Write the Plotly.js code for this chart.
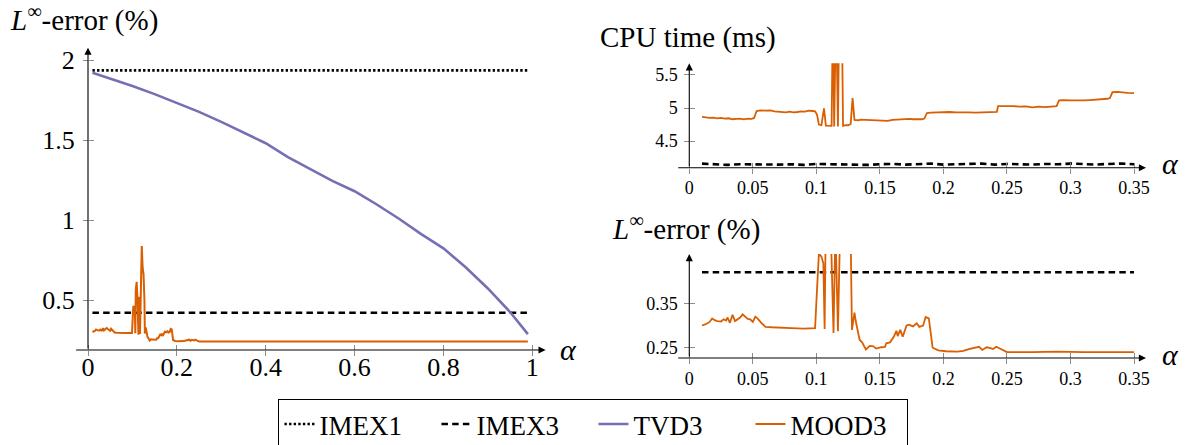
<!DOCTYPE html>
<html><head><meta charset="utf-8">
<script src="https://cdn.plot.ly/plotly-3.0.1.min.js"></script>
<style>html,body{margin:0;padding:0;background:#fff}#chart{width:1190px;height:445px}</style>
</head><body><div id="chart"></div>
<script>
// ---------------- data ----------------
const seriesNames = ['IMEX1', 'IMEX3', 'TVD3', 'MOOD3'];

// reference schemes (constant over alpha)
const alphaRefLeft = [0.01, 0.99];
const alphaRefRight = [0.01, 0.35];
const imex1Err = [1.935, 1.935];
const imex3Err = [0.42, 0.42];

// TVD3 L-infinity error
const alphaTvd = [0.01,0.05,0.10,0.15,0.20,0.25,0.30,0.35,0.40,0.45,0.50,0.55,0.60,0.65,0.70,0.75,0.80,0.85,0.90,0.95,0.99];
const tvd3Err  = [1.920,1.885,1.838,1.787,1.733,1.676,1.613,1.549,1.480,1.393,1.320,1.245,1.180,1.097,1.008,0.912,0.823,0.705,0.572,0.425,0.287];

// MOOD3 L-infinity error
const alphaMood = [0.010,0.013,0.016,0.018,0.020,0.022,0.025,0.027,0.029,0.030,
  0.032,0.034,0.036,0.038,0.040,0.042,0.044,0.046,0.048,0.050,
  0.052,0.054,0.057,0.060,0.065,0.070,0.080,0.090,0.099,0.1005,
  0.102,0.104,0.1055,0.1065,0.1075,0.1095,0.1115,0.1135,0.115,0.117,
  0.119,0.121,0.123,0.125,0.127,0.128,0.130,0.131,0.134,0.136,
  0.139,0.142,0.145,0.147,0.151,0.154,0.155,0.158,0.161,0.163,
  0.164,0.166,0.168,0.171,0.173,0.176,0.179,0.181,0.184,0.186,
  0.1885,0.1915,0.196,0.202,0.211,0.2157,0.220,0.223,0.228,0.2306,
  0.234,0.237,0.239,0.2416,0.246,0.250,0.270,0.290,0.310,0.350,
  0.40,0.50,0.60,0.70,0.80,0.90,0.99];
const moodErr = [0.300,0.303,0.308,0.316,0.312,0.310,0.309,0.314,0.311,0.318,
  0.306,0.324,0.310,0.314,0.318,0.325,0.320,0.315,0.314,0.308,
  0.320,0.315,0.305,0.297,0.296,0.295,0.294,0.293,0.294,0.380,
  0.462,0.455,0.440,0.292,0.560,0.614,0.500,0.283,0.520,0.287,
  0.600,0.838,0.700,0.660,0.500,0.290,0.329,0.310,0.268,0.262,
  0.246,0.254,0.253,0.248,0.251,0.252,0.260,0.262,0.275,0.288,
  0.276,0.290,0.275,0.300,0.302,0.298,0.305,0.297,0.300,0.319,
  0.316,0.250,0.244,0.242,0.241,0.243,0.247,0.249,0.252,0.245,
  0.251,0.249,0.247,0.252,0.245,0.240,0.240,0.241,0.240,0.240,
  0.240,0.240,0.240,0.240,0.240,0.240,0.240];

// MOOD3 CPU time (ms)
const alphaCpu = [0.010,0.013,0.016,0.019,0.022,0.025,0.028,0.031,0.034,0.037,
  0.040,0.043,0.046,0.049,0.051,0.053,0.056,0.060,0.064,0.067,
  0.070,0.073,0.076,0.079,0.082,0.085,0.088,0.091,0.094,0.097,
  0.099,0.1005,0.102,0.104,0.106,0.1075,0.110,0.112,0.113,0.114,
  0.1155,0.117,0.118,0.120,0.121,0.123,0.125,0.127,0.1285,0.130,
  0.133,0.135,0.140,0.145,0.150,0.153,0.156,0.160,0.163,0.166,
  0.170,0.173,0.176,0.180,0.183,0.185,0.187,0.190,0.195,0.200,
  0.205,0.210,0.215,0.220,0.225,0.230,0.235,0.240,0.242,0.243,
  0.250,0.255,0.260,0.265,0.270,0.275,0.280,0.285,0.289,0.291,
  0.295,0.300,0.305,0.310,0.315,0.320,0.325,0.329,0.331,0.333,
  0.337,0.341,0.345,0.350];
const moodCpu = [4.865,4.855,4.850,4.855,4.845,4.850,4.840,4.845,4.830,4.835,
  4.840,4.830,4.840,4.835,4.850,4.955,4.965,4.960,4.965,4.950,
  4.945,4.940,4.935,4.945,4.935,4.940,4.950,4.945,4.960,4.955,
  4.950,4.900,4.750,4.740,4.995,4.735,4.730,4.730,6.500,4.720,
  6.500,4.720,6.500,6.500,4.730,4.740,4.740,4.760,5.150,4.820,
  4.815,4.825,4.820,4.815,4.820,4.810,4.805,4.820,4.825,4.820,
  4.830,4.835,4.830,4.825,4.830,4.840,4.925,4.930,4.935,4.935,
  4.940,4.935,4.940,4.935,4.930,4.935,4.930,4.935,4.940,5.030,
  5.035,5.030,5.020,5.025,5.010,5.020,5.015,5.025,5.030,5.115,
  5.120,5.115,5.110,5.115,5.120,5.125,5.130,5.140,5.150,5.240,
  5.245,5.235,5.230,5.225];

// IMEX3 CPU time (ms)
const alphaImexCpu = [0.01,0.02,0.03,0.04,0.05,0.06,0.07,0.08,0.09,0.10,
  0.11,0.12,0.13,0.14,0.15,0.16,0.17,0.18,0.19,0.20,
  0.21,0.22,0.23,0.24,0.25,0.26,0.27,0.28,0.29,0.30,
  0.31,0.32,0.33,0.34,0.35];
const imex3Cpu = [4.160,4.145,4.140,4.150,4.145,4.150,4.145,4.150,4.140,4.155,
  4.150,4.145,4.150,4.140,4.150,4.155,4.145,4.150,4.160,4.145,
  4.150,4.155,4.160,4.145,4.155,4.150,4.145,4.155,4.150,4.160,
  4.150,4.145,4.155,4.160,4.150];

// tick labels
const leftXTicks = [0, 0.2, 0.4, 0.6, 0.8, 1];
const leftXText = ['0', '0.2', '0.4', '0.6', '0.8', '1'];
const leftYTicks = [0.5, 1, 1.5, 2];
const leftYText = ['0.5', '1', '1.5', '2'];
const rightXTicks = [0, 0.05, 0.1, 0.15, 0.2, 0.25, 0.3, 0.35];
const rightXText = ['0', '0.05', '0.1', '0.15', '0.2', '0.25', '0.3', '0.35'];
const cpuYTicks = [4.5, 5, 5.5];
const cpuYText = ['4.5', '5', '5.5'];
const errYTicks = [0.25, 0.35];
const errYText = ['0.25', '0.35'];

// ---------------- styling / layout ----------------
const W = 1190, H = 445;
const FONT = 'Liberation Serif';
const BLACK = '#000000', TVD_COLOR = '#7570b3', MOOD_COLOR = '#d95f02';
const TICKC = '#8c8c8c';
const fx = p => p / W;
const fy = p => 1 - p / H;

const leftXR = [-0.03, 1.03], leftYR = [0.1875, 2.077];
const rightXR = [-0.0099, 0.3594], cpuYR = [4.098, 5.676], errYR = [0.2268, 0.461];

const dotDash = '2.4px,2.2px';
const dashDash = '6.5px,4.2px';

const rightMask = alphaMood.map(a => a <= 0.35);
const alphaMoodR = alphaMood.filter((a, i) => rightMask[i]);
const moodErrR = moodErr.filter((v, i) => rightMask[i]);

const traces = [
  {x: alphaRefLeft, y: imex1Err, name: seriesNames[0], mode: 'lines', xaxis: 'x', yaxis: 'y',
   line: {color: BLACK, width: 2.6, dash: dotDash}},
  {x: alphaRefLeft, y: imex3Err, name: seriesNames[1], mode: 'lines', xaxis: 'x', yaxis: 'y',
   line: {color: BLACK, width: 2.6, dash: dashDash}},
  {x: alphaTvd, y: tvd3Err, name: seriesNames[2], mode: 'lines', xaxis: 'x', yaxis: 'y',
   line: {color: TVD_COLOR, width: 2.6}},
  {x: alphaMood, y: moodErr, name: seriesNames[3], mode: 'lines', xaxis: 'x', yaxis: 'y',
   line: {color: MOOD_COLOR, width: 2}},
  {x: alphaImexCpu, y: imex3Cpu, name: seriesNames[1], mode: 'lines', xaxis: 'x2', yaxis: 'y2', showlegend: false,
   line: {color: BLACK, width: 2.6, dash: dashDash}},
  {x: alphaCpu, y: moodCpu, name: seriesNames[3], mode: 'lines', xaxis: 'x2', yaxis: 'y2', showlegend: false,
   line: {color: MOOD_COLOR, width: 1.8}},
  {x: alphaRefRight, y: imex3Err, name: seriesNames[1], mode: 'lines', xaxis: 'x3', yaxis: 'y3', showlegend: false,
   line: {color: BLACK, width: 2.6, dash: dashDash}},
  {x: alphaMoodR, y: moodErrR, name: seriesNames[3], mode: 'lines', xaxis: 'x3', yaxis: 'y3', showlegend: false,
   line: {color: MOOD_COLOR, width: 1.8}},
  {x: [], y: [], xaxis: 'x4', yaxis: 'y4', showlegend: false, hoverinfo: 'skip'},
  {x: [], y: [], xaxis: 'x5', yaxis: 'y5', showlegend: false, hoverinfo: 'skip'},
  {x: [], y: [], xaxis: 'x6', yaxis: 'y6', showlegend: false, hoverinfo: 'skip'}
];

function baseAxis(range, tickvals, ticktext, size) {
  return {range, tickvals, ticktext, ticks: 'outside', ticklen: 5, tickwidth: 1, tickcolor: TICKC,
    showgrid: false, zeroline: false, showline: false, fixedrange: true,
    tickfont: {family: FONT, size, color: BLACK}};
}
function insideAxis(range, tickvals, over, extra) {
  return Object.assign({range, tickvals, ticks: 'inside', ticklen: 5, tickwidth: 1, tickcolor: TICKC,
    showticklabels: false, showgrid: false, zeroline: false, showline: false, fixedrange: true,
    overlaying: over}, extra);
}

const leftDomX = [fx(88 + 444.3 * leftXR[0]), fx(88 + 444.3 * leftXR[1])];
const leftDomY = [fy(350), fy(47.7)];
const rightDomX = [fx(676.7), fx(1146)];
const cpuDomY = [fy(167.7), fy(63.3)];
const errDomY = [fy(358), fy(254)];
const leftYPos = fx(88);
const rightYPos = fx(689.3);

const layout = {
  width: W, height: H,
  margin: {l: 0, r: 0, t: 0, b: 0, autoexpand: false},
  paper_bgcolor: '#ffffff', plot_bgcolor: 'rgba(0,0,0,0)',
  font: {family: FONT, color: BLACK},
  showlegend: true,
  xaxis: Object.assign(baseAxis(leftXR, leftXTicks, leftXText, 26), {domain: leftDomX, anchor: 'y', ticklabelstandoff: -11}),
  yaxis: Object.assign(baseAxis(leftYR, leftYTicks, leftYText, 26), {domain: leftDomY, anchor: 'free', position: leftYPos, ticklabelstandoff: 3}),
  xaxis2: Object.assign(baseAxis(rightXR, rightXTicks, rightXText, 18), {domain: rightDomX, anchor: 'y2', ticklabelstandoff: -1}),
  yaxis2: Object.assign(baseAxis(cpuYR, cpuYTicks, cpuYText, 18), {domain: cpuDomY, anchor: 'free', position: rightYPos, ticklabelstandoff: 3}),
  xaxis3: Object.assign(baseAxis(rightXR, rightXTicks, rightXText, 18), {domain: rightDomX, anchor: 'y3', ticklabelstandoff: -1}),
  yaxis3: Object.assign(baseAxis(errYR, errYTicks, errYText, 18), {domain: errDomY, anchor: 'free', position: rightYPos, ticklabelstandoff: 3}),
  xaxis4: insideAxis(leftXR, leftXTicks, 'x', {anchor: 'y'}),
  yaxis4: insideAxis(leftYR, leftYTicks, 'y', {anchor: 'free', position: leftYPos}),
  xaxis5: insideAxis(rightXR, rightXTicks, 'x2', {anchor: 'y2'}),
  yaxis5: insideAxis(cpuYR, cpuYTicks, 'y2', {anchor: 'free', position: rightYPos}),
  xaxis6: insideAxis(rightXR, rightXTicks, 'x3', {anchor: 'y3'}),
  yaxis6: insideAxis(errYR, errYTicks, 'y3', {anchor: 'free', position: rightYPos}),
  legend: {orientation: 'h', x: 0.4987, xanchor: 'center', y: fy(399), yanchor: 'top',
    bordercolor: BLACK, borderwidth: 1, bgcolor: '#ffffff',
    entrywidth: 112, entrywidthmode: 'pixels',
    font: {family: FONT, size: 27, color: BLACK}, traceorder: 'normal'},
  annotations: []
};

function arrow(xref, yref, x0, y0, x1, y1) {
  return {xref, yref, axref: xref, ayref: yref, x: x1, y: y1, ax: x0, ay: y0, text: '',
    showarrow: true, arrowhead: 2, arrowsize: 1.3, arrowwidth: 1.1, arrowcolor: BLACK, standoff: 0, startstandoff: 0};
}
layout.annotations.push(
  arrow('x', 'y', leftXR[0], leftYR[0], leftXR[1], leftYR[0]),
  arrow('x', 'y', 0, leftYR[0], 0, leftYR[1]),
  arrow('x2', 'y2', rightXR[0], cpuYR[0], rightXR[1], cpuYR[0]),
  arrow('x2', 'y2', 0, cpuYR[0], 0, cpuYR[1]),
  arrow('x3', 'y3', rightXR[0], errYR[0], rightXR[1], errYR[0]),
  arrow('x3', 'y3', 0, errYR[0], 0, errYR[1])
);
function label(text, xpx, ypx, size) {
  return {xref: 'paper', yref: 'paper', x: fx(xpx), y: fy(ypx), xanchor: 'left', yanchor: 'middle',
    text, showarrow: false, font: {family: FONT, size, color: BLACK}};
}
const errTitle = '<i>L</i><sup>∞</sup>-error (%)';
layout.annotations.push(
  label(errTitle, 8, 18, 29),
  label('CPU time (ms)', 598, 37, 29),
  label(errTitle, 610, 228, 29),
  label('<i>α</i>', 558, 349, 30),
  label('<i>α</i>', 1160, 163, 30),
  label('<i>α</i>', 1160, 354, 30)
);

Plotly.newPlot('chart', traces, layout, {displayModeBar: false, staticPlot: true});
</script>
</body></html>
